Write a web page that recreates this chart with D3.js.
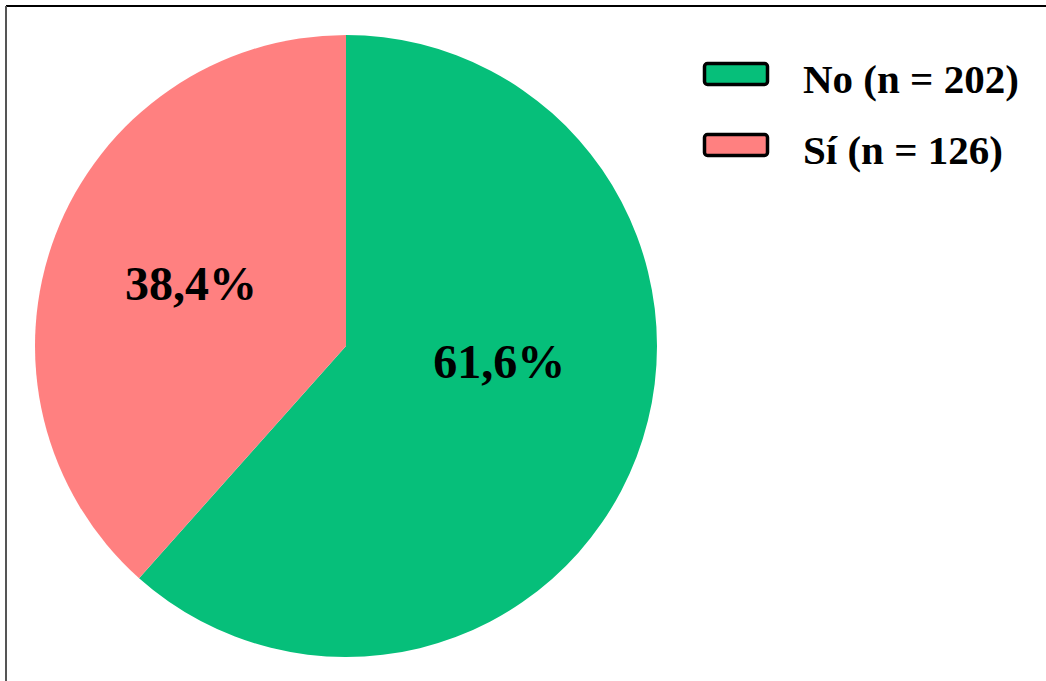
<!DOCTYPE html>
<html>
<head>
<meta charset="utf-8">
<script src="https://cdn.jsdelivr.net/npm/d3@7"></script>
<style>
  body { margin: 0; background: #fff; }
  svg { display: block; }
</style>
</head>
<body>
<div id="chart"></div>
<script>
// data
var categories = ['No', 'Sí']
var counts = [202, 126]
var percentLabels = ['61,6%', '38,4%']
var legendLabels = ['No (n = 202)', 'Sí (n = 126)']
var colors = ['#06BF7A', '#FF8080']

var width = 1046, height = 681

var svg = d3.select('#chart')
    .append('svg')
    .attr('width', width)
    .attr('height', height)

// frame (only top and left edges show)
svg.append('line')
    .attr('x1', 6).attr('y1', 6).attr('x2', width).attr('y2', 6)
    .attr('stroke', '#000').attr('stroke-width', 2)
svg.append('line')
    .attr('x1', 6).attr('y1', 6).attr('x2', 6).attr('y2', height)
    .attr('stroke', '#555').attr('stroke-width', 2)

var cx = 346, cy = 346, r = 311

var pie = d3.pie().sort(null).value(function(d) { return d })
var arcs = pie(counts)

var arc = d3.arc().innerRadius(0).outerRadius(r)

var g = svg.append('g')
    .attr('transform', 'translate(' + cx + ',' + cy + ')')

g.selectAll('path')
    .data(arcs)
    .enter()
    .append('path')
    .attr('d', arc)
    .attr('fill', function(d, i) { return colors[i] })

// label placement (excel-ish best fit)
var labelArc = d3.arc().innerRadius(0).outerRadius(332)
var labelShift = [[-2, -44], [0, -4]]

g.selectAll('text.pct')
    .data(arcs)
    .enter()
    .append('text')
    .attr('class', 'pct')
    .attr('x', function(d, i) { return labelArc.centroid(d)[0] + labelShift[i][0] })
    .attr('y', function(d, i) { return labelArc.centroid(d)[1] + labelShift[i][1] })
    .attr('dy', '0.35em')
    .attr('text-anchor', 'middle')
    .attr('font-family', '"Liberation Serif", "Times New Roman", serif')
    .attr('font-weight', 'bold')
    .attr('font-size', 48)
    .text(function(d, i) { return percentLabels[i] })

// legend
var legend = svg.append('g')
    .selectAll('g')
    .data(categories)
    .enter()
    .append('g')
    .attr('transform', function(d, i) { return 'translate(703,' + (62 + i * 71) + ')' })

legend.append('rect')
    .attr('x', 1.5).attr('y', 1.5)
    .attr('width', 63).attr('height', 21)
    .attr('rx', 3)
    .attr('fill', function(d, i) { return colors[i] })
    .attr('stroke', '#000')
    .attr('stroke-width', 3.5)

legend.append('text')
    .attr('x', 100)
    .attr('y', 31)
    .attr('font-family', '"Liberation Serif", "Times New Roman", serif')
    .attr('font-weight', 'bold')
    .attr('font-size', 41)
    .text(function(d, i) { return legendLabels[i] })
</script>
</body>
</html>
